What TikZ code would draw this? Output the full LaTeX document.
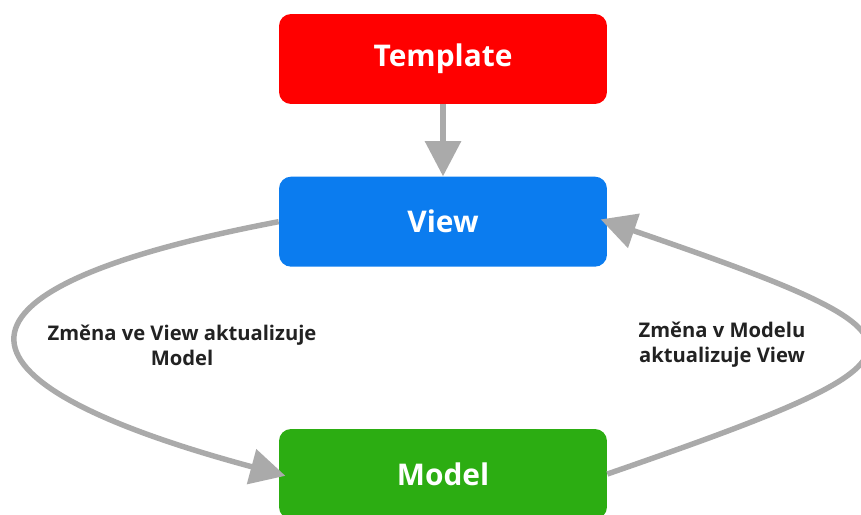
\documentclass[tikz,border=0pt]{standalone}
\usepackage{fontspec}
\setmainfont{Open Sans}
\usetikzlibrary{positioning}
\usetikzlibrary{arrows.meta}
\usepackage{xcolor}

\definecolor{tplred}{HTML}{FF0000}
\definecolor{viewblue}{HTML}{0B7CEF}
\definecolor{modelgreen}{HTML}{2CAD12}
\definecolor{linkgray}{HTML}{AAAAAA}
\definecolor{notegray}{HTML}{222222}

\tikzset{
  box/.style={rounded corners=0.24cm, minimum width=6.56cm, minimum height=1.8cm,
    text=white, font=\fontsize{17}{20}\selectfont\bfseries},
  link/.style={draw=linkgray, line width=3.1pt, -{Triangle[width=20pt,length=20pt]}},
  note/.style={align=center, text=notegray, font=\fontsize{11.5}{14.2}\selectfont\bfseries}
}

\begin{document}
\begin{tikzpicture}[x=0.02cm,y=-0.02cm]
\clip (0,0) rectangle (861,514);

% boxes
{
\node[box, fill=tplred] (template) at (443,59) {Template};
\node[box, fill=viewblue, below=1.44cm of template] (view) {View};
\node[box, fill=modelgreen] (model) at (443,474) {Model};
}

% arrows
{
\draw[link] (template) -- (view);
\draw[link, shorten >=-0.14cm] (view.west) .. controls (-70,288) and (-70,380) .. (model.west);
\draw[link, shorten >=-0.14cm] (model.east) .. controls (951,355) and (951,340) .. (view.east);
}

% labellings
{
\node[note] (leftnote) at (182,345) {Změna ve View aktualizuje\\Model};
\node[note] (rightnote) at (722,345) {Změna v Modelu\\aktualizuje View};
}
\end{tikzpicture}
\end{document}
